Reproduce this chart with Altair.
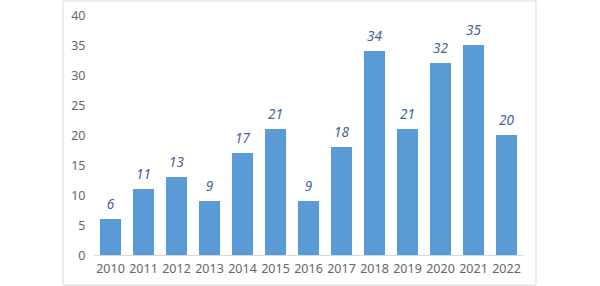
import altair as alt
import pandas as pd

years = ["2010", "2011", "2012", "2013", "2014", "2015", "2016",
         "2017", "2018", "2019", "2020", "2021", "2022"]
counts = [6, 11, 13, 9, 17, 21, 9, 18, 34, 21, 32, 35, 20]
y_ticks = [0, 5, 10, 15, 20, 25, 30, 35, 40]

df = pd.DataFrame({"year": years, "count": counts})

FONT = "Noto Sans"

x = alt.X("year:N", sort=years, title=None,
          scale=alt.Scale(paddingInner=0.36, paddingOuter=0.18),
          axis=alt.Axis(labelAngle=0, ticks=False, domainColor="#D9D9D9",
                        labelColor="#666666", labelFontSize=12.5, labelFont=FONT,
                        labelPadding=7, labelOverlap=False))
y = alt.Y("count:Q", title=None,
          scale=alt.Scale(domain=[0, 40]),
          axis=alt.Axis(values=y_ticks, grid=False,
                        domain=False, ticks=False, labelColor="#666666",
                        labelFontSize=12.5, labelFont=FONT, labelPadding=9,
                        labelOverlap=False))

bars = alt.Chart(df).mark_bar(color="#5B9BD5").encode(x=x, y=y)

labels = alt.Chart(df).mark_text(
    dy=-14, fontSize=13.5, fontStyle="italic", font=FONT, color="#44609A",
    baseline="middle"
).encode(x=x, y=y, text="count:Q")

frame = alt.Chart(pd.DataFrame({"a": [0]})).mark_rect(
    fill="transparent", stroke="#D9D9D9", strokeWidth=1
).encode(x=alt.value(-31), x2=alt.value(442), y=alt.value(-14), y2=alt.value(270))

chart = alt.layer(frame, bars, labels).properties(
    width=429, height=240,
    padding={"left": 94, "top": 15, "right": 77, "bottom": 31},
    autosize=alt.AutoSizeParams(type="none"),
    background="white",
).configure_view(stroke=None)

chart.save("out.html", embed_options={"renderer": "svg", "actions": False})
